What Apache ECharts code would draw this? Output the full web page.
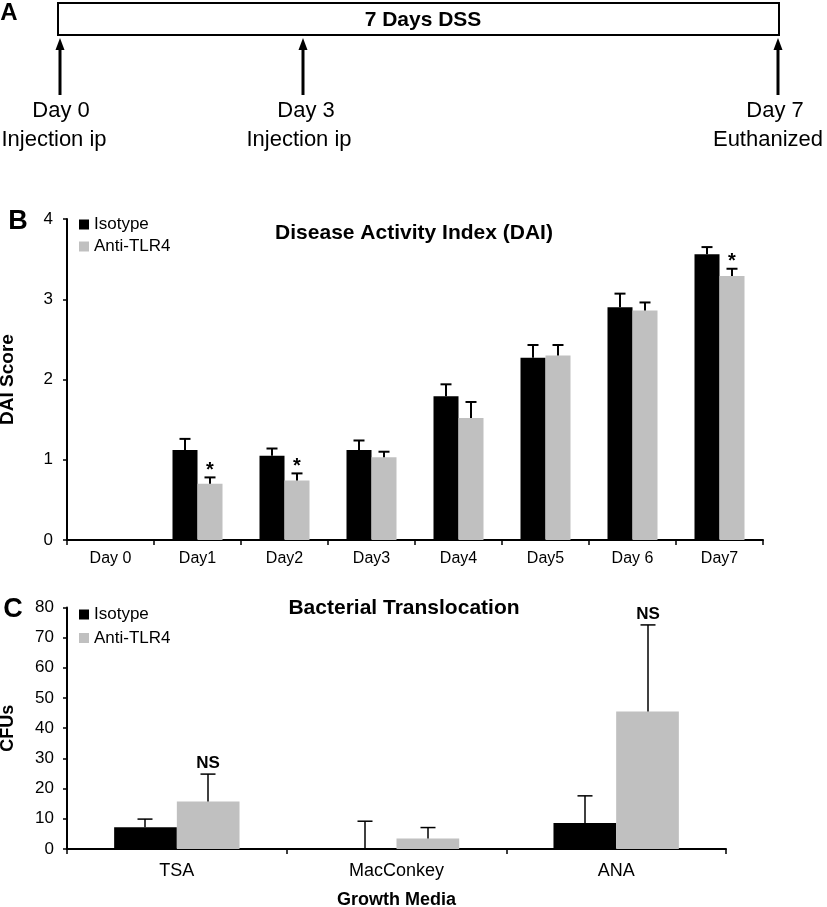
<!DOCTYPE html>
<html>
<head>
<meta charset="utf-8">
<script src="https://cdn.jsdelivr.net/npm/echarts@6/dist/echarts.min.js"></script>
<style>
html,body{margin:0;padding:0;background:#fff;}
#chart{width:827px;height:907px;}
</style>
</head>
<body>
<div id="chart"></div>
<script>
// ---------- Panel A: timeline ----------
const timelineTitle = '7 Days DSS';
const timelineDays = ['Day 0', 'Day 3', 'Day 7'];
const timelineEvents = ['Injection ip', 'Injection ip', 'Euthanized'];

// ---------- Panel B: Disease Activity Index ----------
const dayCategories = ['Day 0', 'Day1', 'Day2', 'Day3', 'Day4', 'Day5', 'Day 6', 'Day7'];
const daiIsotype    = [null, 1.12, 1.05, 1.12, 1.79, 2.27, 2.90, 3.56];
const daiIsotypeErr = [null, 0.14, 0.09, 0.12, 0.15, 0.16, 0.17, 0.09];
const daiAnti       = [null, 0.70, 0.74, 1.03, 1.52, 2.30, 2.86, 3.29];
const daiAntiErr    = [null, 0.08, 0.09, 0.07, 0.20, 0.13, 0.10, 0.09];
const daiAntiSig    = ['', '*', '*', '', '', '', '', '*'];
const daiTicks = [0, 1, 2, 3, 4];

// ---------- Panel C: Bacterial Translocation ----------
const mediaCategories = ['TSA', 'MacConkey', 'ANA'];
const cfuIsotype    = [7.2, 0, 8.6];
const cfuIsotypeErr = [2.7, 9.2, 9.0];
const cfuAnti       = [15.7, 3.5, 45.5];
const cfuAntiErr    = [9.1, 3.6, 28.7];
const cfuAntiSig    = ['NS', '', 'NS'];
const cfuTicks = [0, 10, 20, 30, 40, 50, 60, 70, 80];

const seriesNames = ['Isotype', 'Anti-TLR4'];
const FONT = "'Liberation Sans', Arial, Helvetica, sans-serif";
const BLACK = '#000000';
const GRAY = '#c0c0c0';

function errData(vals, errs) {
  return vals.map((v, i) => [i, v == null ? null : v, errs[i] == null ? null : errs[i]]);
}

function makeErr(sign, barFrac, capW, lw, sigFont, sigGap, sigs) {
  return function (params, api) {
    const cat = api.value(0), v = api.value(1), e = api.value(2);
    if (e == null || isNaN(e) || isNaN(v)) return null;
    const band = api.size([1, 0])[0];
    const dx = sign * band * barFrac / 2;
    const p0 = api.coord([cat, v]);
    const p1 = api.coord([cat, v + e]);
    const x = Math.round(p0[0] + dx);
    const children = [
      { type: 'line', shape: { x1: x, y1: p0[1], x2: x, y2: p1[1] }, style: { stroke: '#000', lineWidth: lw } },
      { type: 'line', shape: { x1: x - capW / 2, y1: p1[1], x2: x + capW / 2, y2: p1[1] }, style: { stroke: '#000', lineWidth: lw } }
    ];
    const s = sigs ? sigs[params.dataIndex] : '';
    if (s) {
      children.push({ type: 'text', style: { text: s, x: x, y: p1[1] - sigGap, align: 'center', verticalAlign: 'bottom', font: sigFont, fill: '#000' } });
    }
    return { type: 'group', children: children };
  };
}

const barFracB = 25 / 87;
const barFracC = 62.7 / 219.7;

function axisLine() { return { show: true, onZero: false, lineStyle: { color: '#000', width: 2 } }; }
function axisTick(len) { return { show: true, length: len, alignWithLabel: false, lineStyle: { color: '#000', width: 1.5 } }; }

function arrow(x, yTop, yBot) {
  return [
    { type: 'line', shape: { x1: x, y1: yTop + 8, x2: x, y2: yBot }, style: { stroke: '#000', lineWidth: 3 } },
    { type: 'polygon', shape: { points: [[x, yTop], [x - 4.5, yTop + 12], [x + 4.5, yTop + 12]] }, style: { fill: '#000' } }
  ];
}
const arrowX = [60, 303, 778];
const dayLabelX = [61, 306, 775];
const eventLabelX = [54, 299, 768];

const graphics = [
  { type: 'rect', shape: { x: 58, y: 3, width: 721, height: 32 }, style: { fill: '#fff', stroke: '#000', lineWidth: 2 } },
  { type: 'text', x: 423, y: 20, style: { text: timelineTitle, align: 'center', verticalAlign: 'middle', font: 'bold 21px ' + FONT, fill: '#000' } },
  { type: 'text', x: 9, y: 13, style: { text: 'A', align: 'center', verticalAlign: 'middle', font: 'bold 24px ' + FONT, fill: '#000' } },
  { type: 'text', x: 18, y: 222, style: { text: 'B', align: 'center', verticalAlign: 'middle', font: 'bold 27px ' + FONT, fill: '#000' } },
  { type: 'text', x: 13, y: 610, style: { text: 'C', align: 'center', verticalAlign: 'middle', font: 'bold 27px ' + FONT, fill: '#000' } },
  { type: 'text', x: 414, y: 233, style: { text: 'Disease Activity Index (DAI)', align: 'center', verticalAlign: 'middle', font: 'bold 21px ' + FONT, fill: '#000' } },
  { type: 'text', x: 404, y: 608, style: { text: 'Bacterial Translocation', align: 'center', verticalAlign: 'middle', font: 'bold 21px ' + FONT, fill: '#000' } }
];
timelineDays.forEach((d, i) => {
  arrow(arrowX[i], 38, 95).forEach(g => graphics.push(g));
  graphics.push({ type: 'text', x: dayLabelX[i], y: 111, style: { text: d, align: 'center', verticalAlign: 'middle', font: '22px ' + FONT, fill: '#000' } });
  graphics.push({ type: 'text', x: eventLabelX[i], y: 140, style: { text: timelineEvents[i], align: 'center', verticalAlign: 'middle', font: '22px ' + FONT, fill: '#000' } });
});

const option = {
  animation: false,
  backgroundColor: '#fff',
  textStyle: { fontFamily: FONT, color: '#000' },
  graphic: graphics,
  legend: [
    { data: seriesNames, orient: 'vertical', left: 79, top: 216, padding: 0, itemWidth: 10, itemHeight: 10, itemGap: 5, icon: 'rect',
      textStyle: { fontSize: 17, lineHeight: 17, color: '#000', fontFamily: FONT } },
    { data: seriesNames, orient: 'vertical', left: 79, top: 606, padding: 0, itemWidth: 10, itemHeight: 10, itemGap: 6.5, icon: 'rect',
      textStyle: { fontSize: 17, lineHeight: 17, color: '#000', fontFamily: FONT } }
  ],
  grid: [
    { left: 67, top: 219, width: 696, height: 321, containLabel: false, outerBoundsMode: 'none' },
    { left: 67, top: 607.4, width: 659, height: 241.6, containLabel: false, outerBoundsMode: 'none' }
  ],
  xAxis: [
    { type: 'category', gridIndex: 0, data: dayCategories, boundaryGap: true,
      axisLine: axisLine(), axisTick: axisTick(5),
      axisLabel: { fontSize: 16, color: '#000', margin: 11, fontFamily: FONT, interval: 0 }, splitLine: { show: false } },
    { type: 'category', gridIndex: 1, data: mediaCategories, boundaryGap: true,
      name: 'Growth Media', nameLocation: 'middle', nameGap: 42,
      nameTextStyle: { fontSize: 18, fontWeight: 'bold', color: '#000', fontFamily: FONT },
      axisLine: axisLine(), axisTick: axisTick(5),
      axisLabel: { fontSize: 18, color: '#000', margin: 13, fontFamily: FONT, interval: 0 }, splitLine: { show: false } }
  ],
  yAxis: [
    { type: 'value', gridIndex: 0, position: 'left', min: daiTicks[0], max: daiTicks[daiTicks.length - 1], interval: 1,
      name: 'DAI Score', nameLocation: 'middle', nameGap: 50,
      nameTextStyle: { fontSize: 19, fontWeight: 'bold', color: '#000', fontFamily: FONT },
      axisLine: axisLine(), axisTick: axisTick(4),
      axisLabel: { fontSize: 17, color: '#000', margin: 14, fontFamily: FONT }, splitLine: { show: false } },
    { type: 'value', gridIndex: 1, position: 'left', min: cfuTicks[0], max: cfuTicks[cfuTicks.length - 1], interval: 10,
      name: 'CFUs', nameLocation: 'middle', nameGap: 50,
      nameTextStyle: { fontSize: 18, fontWeight: 'bold', color: '#000', fontFamily: FONT },
      axisLine: axisLine(), axisTick: axisTick(4),
      axisLabel: { fontSize: 17, color: '#000', margin: 13, fontFamily: FONT }, splitLine: { show: false } }
  ],
  series: [
    { name: seriesNames[0], type: 'bar', xAxisIndex: 0, yAxisIndex: 0, data: daiIsotype, barWidth: (barFracB * 100) + '%', barGap: '0%', itemStyle: { color: BLACK } },
    { name: seriesNames[1], type: 'bar', xAxisIndex: 0, yAxisIndex: 0, data: daiAnti, barWidth: (barFracB * 100) + '%', barGap: '0%', itemStyle: { color: GRAY } },
    { type: 'custom', xAxisIndex: 0, yAxisIndex: 0, z: 5, clip: false, data: errData(daiIsotype, daiIsotypeErr),
      encode: { x: 0, y: 1 }, renderItem: makeErr(-1, barFracB, 11, 2, 'bold 20px ' + FONT, 0, null) },
    { type: 'custom', xAxisIndex: 0, yAxisIndex: 0, z: 5, clip: false, data: errData(daiAnti, daiAntiErr),
      encode: { x: 0, y: 1 }, renderItem: makeErr(1, barFracB, 11, 2, 'bold 20px ' + FONT, -3, daiAntiSig) },

    { name: seriesNames[0], type: 'bar', xAxisIndex: 1, yAxisIndex: 1, data: cfuIsotype, barWidth: (barFracC * 100) + '%', barGap: '0%', itemStyle: { color: BLACK } },
    { name: seriesNames[1], type: 'bar', xAxisIndex: 1, yAxisIndex: 1, data: cfuAnti, barWidth: (barFracC * 100) + '%', barGap: '0%', itemStyle: { color: GRAY } },
    { type: 'custom', xAxisIndex: 1, yAxisIndex: 1, z: 5, clip: false, data: errData(cfuIsotype, cfuIsotypeErr),
      encode: { x: 0, y: 1 }, renderItem: makeErr(-1, barFracC, 15, 1.5, 'bold 17px ' + FONT, 0, null) },
    { type: 'custom', xAxisIndex: 1, yAxisIndex: 1, z: 5, clip: false, data: errData(cfuAnti, cfuAntiErr),
      encode: { x: 0, y: 1 }, renderItem: makeErr(1, barFracC, 15, 1.5, 'bold 17px ' + FONT, 2, cfuAntiSig) }
  ]
};

const chart = echarts.init(document.getElementById('chart'), null, { renderer: 'canvas' });
chart.setOption(option);
</script>
</body>
</html>
